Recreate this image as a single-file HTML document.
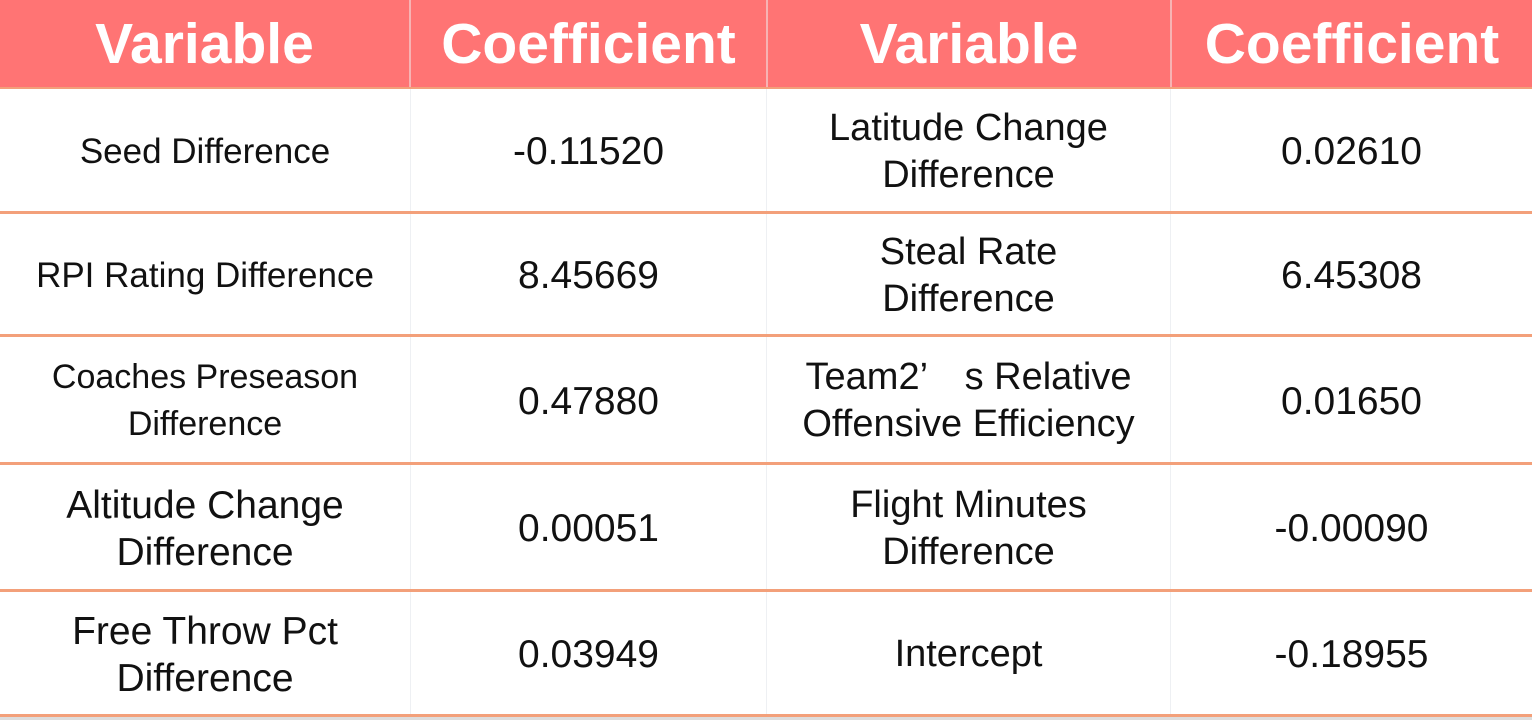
<!DOCTYPE html>
<html><head><meta charset="utf-8"><style>
body{margin:0;width:1532px;height:720px;background:#fff;overflow:hidden;font-family:"Liberation Sans","Noto Sans CJK SC",sans-serif;position:relative}
.h{position:absolute;top:0;height:88px;background:#ff7474;color:#fff;font-weight:bold;font-size:57px;display:flex;align-items:center;justify-content:center}
.c{position:absolute;display:flex;align-items:center;justify-content:center;text-align:center;color:#111;font-size:33px;line-height:47px;padding-top:3px;box-sizing:border-box}
.hl{position:absolute;left:0;width:1532px;height:3px;background:#f3a07a}
.vl{position:absolute;top:88px;height:627px;width:1px;background:#eef0f3}
.hv{position:absolute;top:0;height:88px;width:2px;background:#f7b3b3}
</style></head><body>
<div class="h" style="left:0;width:409px">Variable</div>
<div class="h" style="left:411px;width:355px">Coefficient</div>
<div class="h" style="left:768px;width:402px">Variable</div>
<div class="h" style="left:1172px;width:360px">Coefficient</div>
<div class="hv" style="left:409px"></div><div class="hv" style="left:766px"></div><div class="hv" style="left:1170px"></div>
<div class="vl" style="left:410px"></div><div class="vl" style="left:766px"></div><div class="vl" style="left:1170px"></div>
<div class="hl" style="top:87px;height:2px"></div>
<div class="hl" style="top:211px"></div>
<div class="hl" style="top:334px"></div>
<div class="hl" style="top:462px"></div>
<div class="hl" style="top:589px"></div>
<div class="hl" style="top:714px"></div>
<div style="position:absolute;left:0;top:717px;width:1532px;height:3px;background:#ddd"></div>
<div id="t"></div>
<script>
const rowsTop=[89,214,337,465,592];
const rowsBot=[211,334,462,589,714];
const left=[["Seed Difference",35],["RPI Rating Difference",35],["Coaches Preseason<br>Difference",34],["Altitude Change<br>Difference",39],["Free Throw Pct<br>Difference",39]];
const leftVal=["-0.11520","8.45669","0.47880","0.00051","0.03949"];
const right=["Latitude Change<br>Difference","Steal Rate<br>Difference","Team2’　s Relative<br>Offensive Efficiency","Flight Minutes<br>Difference","Intercept"];
const rightVal=["0.02610","6.45308","0.01650","-0.00090","-0.18955"];
const cols=[[0,410],[411,355],[767,403],[1171,361]];
const t=document.getElementById('t');
function cell(i,k,html,fs,name){
  const d=document.createElement('div');d.className='c';
  d.style.left=cols[k][0]+'px';d.style.width=cols[k][1]+'px';
  d.style.top=rowsTop[i]+'px';d.style.height=(rowsBot[i]-rowsTop[i])+'px';
  if(fs)d.style.fontSize=fs+'px';
  d.innerHTML=html;
  
  
  t.appendChild(d);
}
for(let i=0;i<5;i++){
  cell(i,0,left[i][0],left[i][1],'variable-cell');
  cell(i,1,leftVal[i],39,'coefficient-cell');
  cell(i,2,right[i],38,'variable-cell');
  cell(i,3,rightVal[i],39,'coefficient-cell');
}
</script>
</body></html>
